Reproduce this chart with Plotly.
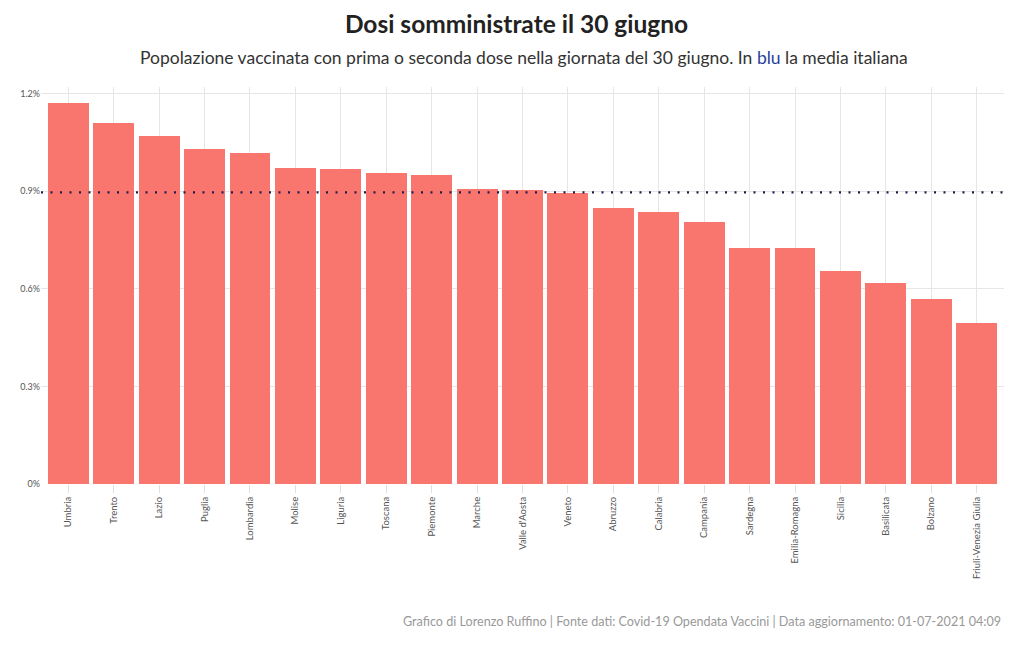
import plotly.graph_objects as go

# dosi somministrate il 30 giugno, % popolazione per regione
regioni = ["Umbria", "Trento", "Lazio", "Puglia", "Lombardia", "Molise", "Liguria",
           "Toscana", "Piemonte", "Marche", "Valle d'Aosta", "Veneto", "Abruzzo",
           "Calabria", "Campania", "Sardegna", "Emilia-Romagna", "Sicilia",
           "Basilicata", "Bolzano", "Friuli-Venezia Giulia"]
percentuali = [1.171, 1.110, 1.068, 1.030, 1.018, 0.972, 0.967,
               0.956, 0.949, 0.906, 0.902, 0.893, 0.848,
               0.836, 0.805, 0.726, 0.726, 0.655,
               0.619, 0.567, 0.495]
media_italiana = 0.896

fig = go.Figure()
fig.add_trace(go.Bar(
    x=regioni,
    y=percentuali,
    marker=dict(color="#F8766D", line=dict(width=0)),
    width=0.9,
))

# linea media italiana
fig.add_shape(type="line", xref="paper", yref="y",
              x0=0, x1=1, y0=media_italiana, y1=media_italiana,
              line=dict(color="#1c1c4c", width=2.2, dash="2px,7.5px"))

fig.update_layout(
    width=1024, height=648,
    margin=dict(l=33, r=28, t=79, b=172),
    plot_bgcolor="white", paper_bgcolor="white",
    font=dict(family="Lato", color="#555"),
    showlegend=False,
    bargap=0,
    title=dict(
        text="<b>Dosi somministrate il 30 giugno</b>",
        x=0.4966, xanchor="center", y=0.974, yanchor="middle",
        font=dict(size=24.5, color="#222"),
    ),
    xaxis=dict(
        range=[-0.6, 20.6],
        automargin=False,
        tickangle=-90,
        tickfont=dict(size=9.5, color="#555"),
        showgrid=True, gridcolor="#e6e6e6", gridwidth=1,
        ticks="outside", ticklen=8, tickcolor="#e0e0e0",
        showline=False, zeroline=False,
    ),
    yaxis=dict(
        range=[0, 1.22],
        automargin=False,
        dtick=0.3, tick0=0,
        ticksuffix="%",
        tickfont=dict(size=9, color="#555"),
        showgrid=True, gridcolor="#e6e6e6", gridwidth=1,
        zeroline=False, showline=False,
    ),
)

fig.add_annotation(
    text="Popolazione vaccinata con prima o seconda dose nella giornata del 30 giugno. In <span style='color:#1f3fa0'>blu</span> la media italiana",
    xref="paper", yref="paper", x=0.502, y=1.0, yshift=30,
    xanchor="center", yanchor="middle", showarrow=False,
    font=dict(size=17.5, color="#333"),
)

fig.add_annotation(
    text="Grafico di Lorenzo Ruffino | Fonte dati: Covid-19 Opendata Vaccini | Data aggiornamento: 01-07-2021 04:09",
    xref="paper", yref="paper", x=1.0, y=0, xshift=-1, yshift=-137,
    xanchor="right", yanchor="middle", showarrow=False,
    font=dict(size=12.6, color="#999"),
)

fig.write_html("out.html")
